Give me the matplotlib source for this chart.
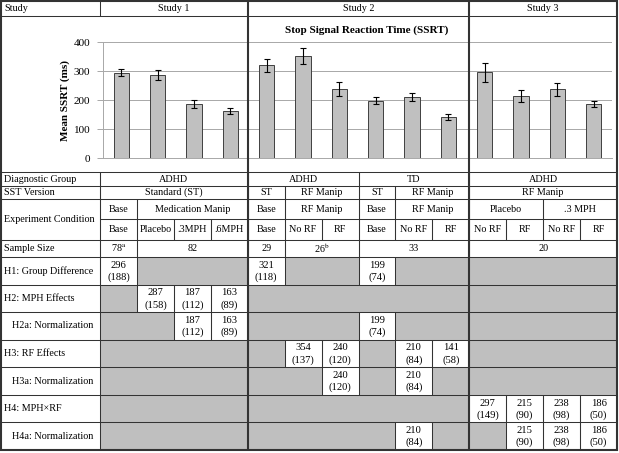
import matplotlib
matplotlib.use("Agg")
import matplotlib.pyplot as plt
from matplotlib.patches import Rectangle

plt.rcParams['font.family'] = ['Liberation Serif', 'DejaVu Serif']
plt.rcParams['mathtext.fontset'] = 'stix'

# ---- data ----
studies = ["Study 1", "Study 2", "Study 3"]
study_spans = [(0, 4), (4, 10), (10, 14)]
conditions = ["Base", "Placebo", ".3MPH", ".6MPH", "Base", "No RF", "RF",
              "Base", "No RF", "RF", "No RF", "RF", "No RF", "RF"]
mean_ssrt = [296, 287, 187, 163, 321, 354, 240, 199, 210, 141, 297, 215, 238, 186]
sd_ssrt = [188, 158, 112, 89, 118, 137, 120, 74, 84, 58, 149, 90, 98, 50]
err_ssrt = [13, 17, 14, 11, 23, 27, 24, 13, 14, 10, 33, 20, 22, 11]
yticks = [0, 100, 200, 300, 400]

diag_groups = [("ADHD", 0, 4), ("ADHD", 4, 7), ("TD", 7, 10), ("ADHD", 10, 14)]
sst_versions = [("Standard (ST)", 0, 4), ("ST", 4, 5), ("RF Manip", 5, 7),
                ("ST", 7, 8), ("RF Manip", 8, 10), ("RF Manip", 10, 14)]
cond_top = [("Base", 0, 1), ("Medication Manip", 1, 4), ("Base", 4, 5),
            ("RF Manip", 5, 7), ("Base", 7, 8), ("RF Manip", 8, 10),
            ("Placebo", 10, 12), (".3 MPH", 12, 14)]
sample_sizes = [("78$^{\\mathrm{a}}$", 0, 1), ("82", 1, 4), ("29", 4, 5),
                ("26$^{\\mathrm{b}}$", 5, 7), ("33", 7, 10), ("20", 10, 14)]

hyp_labels = ["H1: Group Difference", "H2: MPH Effects", "H2a: Normalization",
              "H3: RF Effects", "H3a: Normalization", "H4: MPH\u00d7RF",
              "H4a: Normalization"]
hyp_cols = [[0, 4, 7], [1, 2, 3], [2, 3, 7], [5, 6, 8, 9], [6, 8],
            [10, 11, 12, 13], [8, 11, 12, 13]]

# ---- layout (pixels) ----
W, H = 619, 453
X0, XL, XR = 1, 100, 617
colw = (XR - XL) / 14.0
def cx(i):
    return XL + colw * i

GRAY = '#bfbfbf'
LC = '#333333'
FS = 7.3
thin = 0.75
thick = 1.5

fig = plt.figure(figsize=(W / 100, H / 100), dpi=100)
tab = fig.add_axes([0, 0, 1, 1], zorder=2)
tab.set_xlim(0, W)
tab.set_ylim(H, 0)
tab.axis('off')
tab.patch.set_alpha(0)

# chart axes
cl, cr, cb, ct = 103, 612, 158, 42.5
ax = fig.add_axes([cl / W, 1 - cb / H, (cr - cl) / W, (cb - ct) / H], zorder=1)
xs = list(range(len(mean_ssrt)))
ax.bar(xs, mean_ssrt, width=0.42, color='#c0c0c0', edgecolor='#404040',
       linewidth=0.7, zorder=3)
ax.errorbar(xs, mean_ssrt, yerr=err_ssrt, fmt='none', ecolor='black',
            elinewidth=0.8, capsize=2.5, capthick=0.8, zorder=4)
ax.set_xlim(-0.5, 13.5)
ax.set_ylim(0, 400)
ax.set_yticks(yticks)
ax.set_xticks([])
ax.grid(axis='y', color='#a8a8a8', linewidth=0.7, zorder=0)
for s in ['top', 'right']:
    ax.spines[s].set_visible(False)
ax.spines['left'].set_color('#a8a8a8')
ax.spines['bottom'].set_color('#a8a8a8')
ax.spines['left'].set_linewidth(0.7)
ax.spines['bottom'].set_linewidth(0.7)
ax.tick_params(axis='y', length=4, width=0.7, color='#a8a8a8', labelsize=8, pad=5)
ax.set_ylabel("Mean SSRT (ms)", fontsize=8, fontweight='bold', labelpad=3)
ax.patch.set_alpha(0)

tab.text(367, 30, "Stop Signal Reaction Time (SSRT)", fontsize=8,
         fontweight='bold', ha='center', va='center')

# rows
r_head = (1, 16)
r_chart = (16, 172)
r_diag = (172, 186)
r_sst = (186, 199)
r_ct = (199, 219)
r_cb = (219, 240)
r_n = (240, 257)
hyp_h = (450 - 257) / 7.0
r_hyp = [(257 + hyp_h * k, 257 + hyp_h * (k + 1)) for k in range(7)]

def hline(y, x1=X0, x2=XR, lw=thin):
    tab.plot([x1, x2], [y, y], color=LC, lw=lw, solid_capstyle='butt')

def vline(x, y1, y2, lw=thin):
    tab.plot([x, x], [y1, y2], color=LC, lw=lw, solid_capstyle='butt')

def txt(x, y, s, ha='center', fs=FS):
    tab.text(x, y, s, fontsize=fs, ha=ha, va='center')

def span_row(row, spans):
    y1, y2 = row
    for lab, a, b in spans:
        txt((cx(a) + cx(b)) / 2, (y1 + y2) / 2, lab)
        vline(cx(a), y1, y2)
        vline(cx(b), y1, y2)

# header
txt(4, sum(r_head) / 2, "Study", ha='left')
for lab, (a, b) in zip(studies, study_spans):
    txt((cx(a) + cx(b)) / 2, sum(r_head) / 2, lab)
vline(XL, *r_head)

# label column
txt(4, sum(r_diag) / 2, "Diagnostic Group", ha='left')
txt(4, sum(r_sst) / 2, "SST Version", ha='left')
txt(4, (r_ct[0] + r_cb[1]) / 2, "Experiment Condition", ha='left')
txt(4, sum(r_n) / 2, "Sample Size", ha='left')
for k, lab in enumerate(hyp_labels):
    indent = 12 if 'a:' in lab else 4
    txt(indent, sum(r_hyp[k]) / 2, lab, ha='left')
vline(XL, r_diag[0], r_hyp[-1][1])

span_row(r_diag, diag_groups)
span_row(r_sst, sst_versions)
span_row(r_ct, cond_top)
span_row(r_cb, [(c, i, i + 1) for i, c in enumerate(conditions)])
span_row(r_n, sample_sizes)

# hypothesis rows
for k, cols in enumerate(hyp_cols):
    y1, y2 = r_hyp[k]
    tab.add_patch(Rectangle((XL, y1), XR - XL, y2 - y1, facecolor=GRAY,
                            edgecolor='none', zorder=0))
    for i in cols:
        tab.add_patch(Rectangle((cx(i), y1), colw, y2 - y1, facecolor='white',
                                edgecolor='none', zorder=0))
        vline(cx(i), y1, y2)
        vline(cx(i + 1), y1, y2)
        txt(cx(i) + colw / 2, y1 + hyp_h * 0.3, str(mean_ssrt[i]), fs=7.6)
        txt(cx(i) + colw / 2, y1 + hyp_h * 0.73, "(%d)" % sd_ssrt[i], fs=7.6)

# horizontal lines
for y in [r_head[1], r_chart[1], r_diag[1], r_sst[1], r_cb[1], r_n[1]] + \
         [r[1] for r in r_hyp[:-1]]:
    hline(y)
hline(r_ct[1], XL, XR)

# study dividers and outer border
for a, b in study_spans[1:]:
    vline(cx(a), r_head[0], r_hyp[-1][1], lw=thick)
tab.add_patch(Rectangle((X0, r_head[0]), XR - X0, r_hyp[-1][1] - r_head[0],
                        facecolor='none', edgecolor=LC, lw=thick, zorder=5))

fig.savefig("out.png", dpi=100)
